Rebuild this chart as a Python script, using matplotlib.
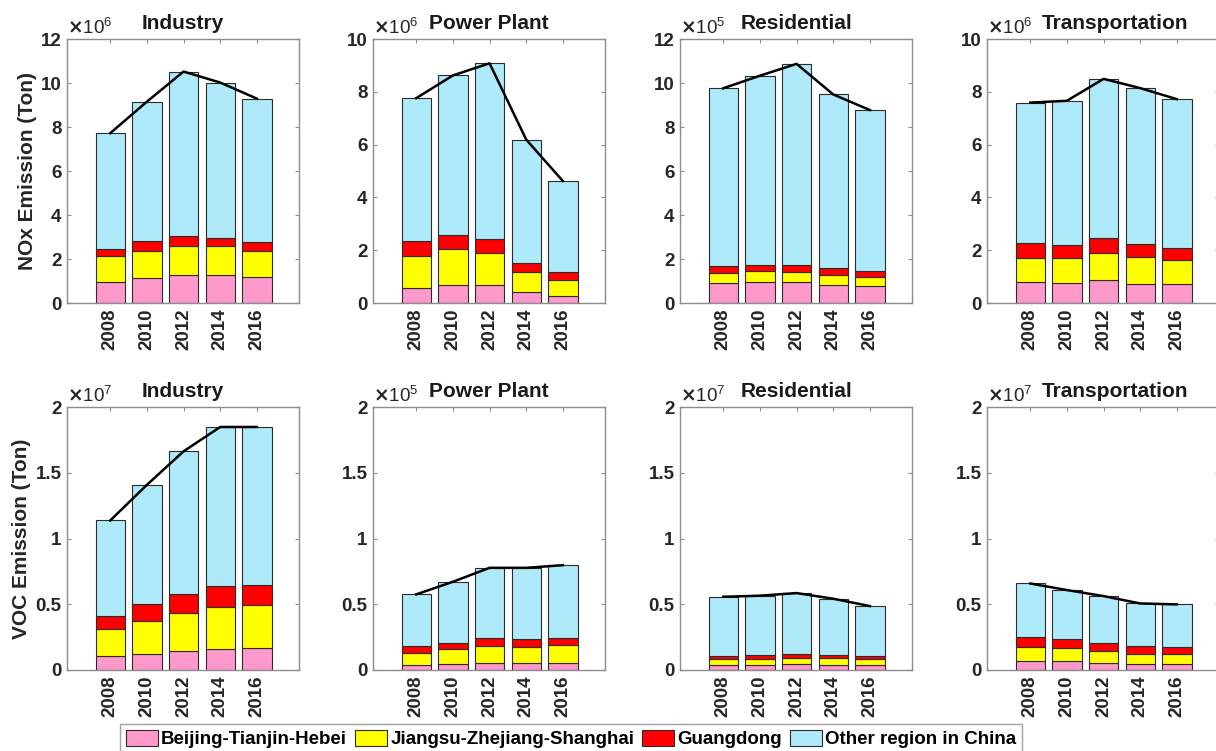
import matplotlib
matplotlib.use('Agg')
import matplotlib.pyplot as plt
from matplotlib.patches import Patch

plt.rcParams['font.family'] = ['Liberation Sans', 'DejaVu Sans']
plt.rcParams['font.weight'] = 'bold'

years = ['2008', '2010', '2012', '2014', '2016']
regions = ['Beijing-Tianjin-Hebei', 'Jiangsu-Zhejiang-Shanghai', 'Guangdong', 'Other region in China']
colors = ['#ff99cc', '#ffff00', '#ff0000', '#aeeafa']

titles = ['Industry', 'Power Plant', 'Residential', 'Transportation']

# NOx, values already divided by the exponent shown on each panel
nox_exp = [6, 6, 5, 6]
nox_ymax = [12, 10, 12, 10]
nox_bth = [[0.96, 1.14, 1.29, 1.29, 1.19],
           [0.58, 0.70, 0.68, 0.41, 0.28],
           [0.90, 0.96, 0.96, 0.82, 0.76],
           [0.80, 0.77, 0.89, 0.73, 0.72]]
nox_jzs = [[1.17, 1.23, 1.31, 1.28, 1.17],
           [1.19, 1.33, 1.22, 0.75, 0.61],
           [0.48, 0.48, 0.47, 0.47, 0.43],
           [0.91, 0.94, 1.02, 1.02, 0.91]]
nox_gd = [[0.33, 0.43, 0.44, 0.38, 0.41],
          [0.56, 0.54, 0.53, 0.36, 0.27],
          [0.32, 0.31, 0.32, 0.31, 0.25],
          [0.58, 0.49, 0.56, 0.49, 0.47]]
nox_total = [[7.72, 9.15, 10.52, 10.02, 9.29],
             [7.76, 8.62, 9.08, 6.19, 4.62],
             [9.76, 10.33, 10.87, 9.48, 8.77],
             [7.59, 7.66, 8.49, 8.14, 7.72]]

# VOC
voc_exp = [7, 5, 7, 7]
voc_ymax = [2, 2, 2, 2]
voc_bth = [[0.109, 0.124, 0.147, 0.162, 0.170],
           [0.038, 0.048, 0.053, 0.053, 0.056],
           [0.040, 0.040, 0.043, 0.040, 0.038],
           [0.071, 0.066, 0.053, 0.046, 0.046]]
voc_jzs = [[0.202, 0.251, 0.286, 0.319, 0.321],
           [0.094, 0.109, 0.129, 0.124, 0.131],
           [0.044, 0.046, 0.048, 0.049, 0.046],
           [0.106, 0.101, 0.091, 0.078, 0.076]]
voc_gd = [[0.099, 0.125, 0.142, 0.157, 0.157],
          [0.048, 0.051, 0.058, 0.058, 0.059],
          [0.025, 0.025, 0.028, 0.025, 0.022],
          [0.076, 0.066, 0.064, 0.058, 0.053]]
voc_total = [[1.137, 1.408, 1.663, 1.848, 1.848],
             [0.575, 0.671, 0.777, 0.777, 0.797],
             [0.557, 0.565, 0.585, 0.542, 0.486],
             [0.658, 0.608, 0.562, 0.506, 0.499]]

W, H = 1216, 751
fig = plt.figure(figsize=(W / 100, H / 100), dpi=100)

lefts = [67, 373, 680, 987]
ax_w = 232
rows = [(39, 303), (407, 670)]


def draw_panel(ax, bth, jzs, gd, total, exp, ymax, ystep, title):
    x = list(range(len(years)))
    other = [t - a - b - c for t, a, b, c in zip(total, bth, jzs, gd)]
    bottom = [0] * len(x)
    for vals, col in zip([bth, jzs, gd, other], colors):
        ax.bar(x, vals, 0.8, bottom=bottom, color=col, edgecolor='#2b2b2b', linewidth=0.8, zorder=2)
        bottom = [b + v for b, v in zip(bottom, vals)]
    ax.plot(x, total, color='black', linewidth=1.8, zorder=3)
    ax.set_xlim(-1.18, 4 + 1.15)
    ax.set_ylim(0, ymax)
    ax.set_xticks(x)
    ax.set_xticklabels(years, rotation=90)
    yt = []
    v = 0
    while v <= ymax + 1e-9:
        yt.append(v)
        v += ystep
    ax.set_yticks(yt)
    ax.set_yticklabels(['%g' % t for t in yt])
    ax.tick_params(direction='in', top=True, right=True, length=3, width=0.8,
                   color='#8c8c8c', labelsize=13.5, labelcolor='#262626', pad=4)
    for lab in ax.get_xticklabels() + ax.get_yticklabels():
        lab.set_fontweight('bold')
    for s in ax.spines.values():
        s.set_color('#8c8c8c')
        s.set_linewidth(1.0)
    # MATLAB pushes the title right when it would collide with the exponent
    tx = 0.55 if title == 'Transportation' else 0.5
    ax.set_title(title, fontsize=15, fontweight='bold', pad=7, color='#1a1a1a', x=tx)
    ax.text(0.0, 1.005, r'$\times\mathregular{10^{%d}}$' % exp, transform=ax.transAxes,
            ha='left', va='bottom', fontsize=13.5, fontweight='normal', color='#262626')


axes = []
for r, (top, bot) in enumerate(rows):
    for c in range(4):
        ax = fig.add_axes([lefts[c] / W, 1 - bot / H, ax_w / W, (bot - top) / H])
        if r == 0:
            draw_panel(ax, nox_bth[c], nox_jzs[c], nox_gd[c], nox_total[c],
                       nox_exp[c], nox_ymax[c], 2, titles[c])
        else:
            draw_panel(ax, voc_bth[c], voc_jzs[c], voc_gd[c], voc_total[c],
                       voc_exp[c], voc_ymax[c], 0.5, titles[c])
        axes.append(ax)

axes[0].set_ylabel('NOx Emission (Ton)', fontsize=15, fontweight='bold', labelpad=3, color='#262626')
axes[4].set_ylabel('VOC Emission (Ton)', fontsize=15, fontweight='bold', labelpad=3, color='#262626')

handles = [Patch(facecolor=c, edgecolor='#2b2b2b', linewidth=0.8) for c in colors]
leg = fig.legend(handles, regions, loc='upper left', bbox_to_anchor=(120 / W, 1 - 724 / H),
                 ncol=4, frameon=True, fancybox=False, fontsize=13.5, handlelength=1.7,
                 handleheight=1.0, handletextpad=0.2, columnspacing=0.4, borderpad=0.3,
                 borderaxespad=0)
leg.get_frame().set_edgecolor('#8c8c8c')
leg.get_frame().set_linewidth(1.0)
for t in leg.get_texts():
    t.set_fontweight('bold')
leg.set_zorder(10)

fig.savefig('out.png', dpi=100)
